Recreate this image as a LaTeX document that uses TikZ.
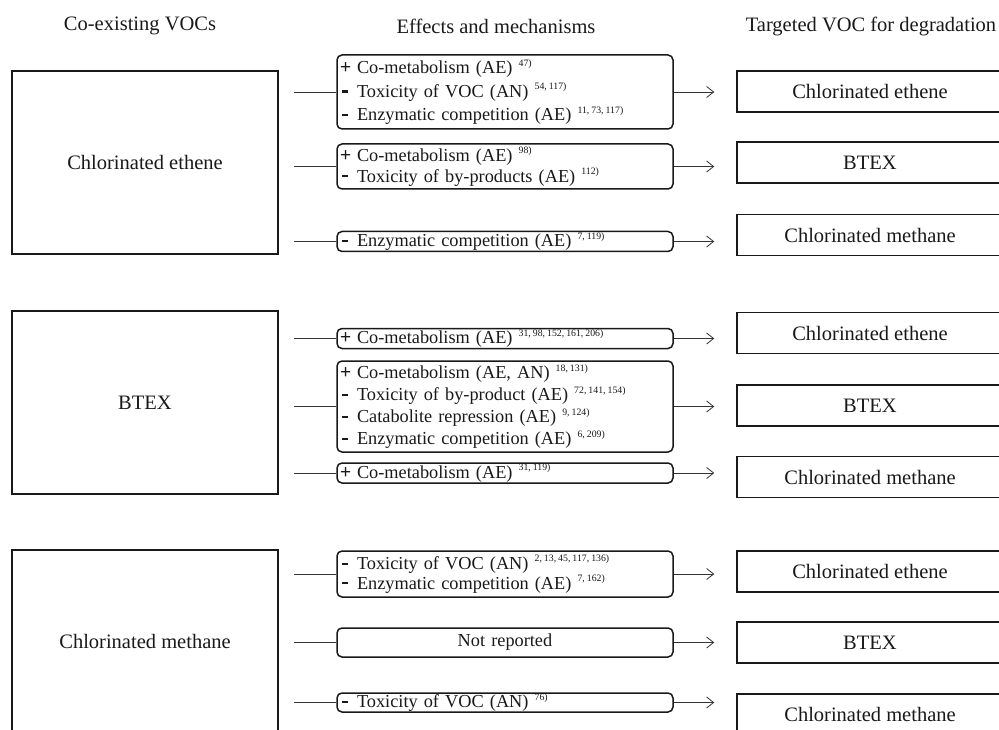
\documentclass[tikz,border=0pt]{standalone}
\usepackage{fontspec}
\setmainfont{Liberation Serif}
\setsansfont{Liberation Sans}
\usetikzlibrary{arrows.meta}
\newcommand\plusmark{\makebox[16pt][l]{\fontsize{19}{19}\sffamily\kern-1pt+}}
\newcommand\minusmark{\makebox[16pt][l]{\kern1pt\rule[4.6pt]{6pt}{2.4pt}}}
\newcommand\rfs[1]{\raisebox{0.42em}{\fontsize{9.8}{10}\selectfont\spaceskip=2pt\xspaceskip=2pt #1}}
\begin{document}
\begin{tikzpicture}[x=1pt,y=-1pt,
  bigtext/.style={font=\fontsize{20.5}{24}\selectfont, text=black!90},
  leftbox/.style={draw=black!90, line width=1.5pt, minimum width=266pt, minimum height=183pt, inner sep=0pt, bigtext},
  rightbox/.style={draw=black!90, line width=1.5pt, minimum width=266pt, minimum height=41pt, inner sep=0pt, bigtext},
  midbox/.style={draw=black!90, line width=1.5pt, rounded corners=5pt, text width=328pt, inner xsep=4pt, inner ysep=0pt, align=left, text=black!90, font=\fontsize{18.3}{22}\selectfont},
  conn/.style={line width=0.8pt, draw=black!80},
  arr/.style={conn, -{Straight Barb[length=7pt,width=11pt]}, shorten >=22pt},
  lin/.style={conn, shorten <=15pt}
]
\useasboundingbox (0,0) rectangle (999,730);
\clip (0,0) rectangle (999,730);

% headers
\node[bigtext] (h1) at (140,26) {Co-existing VOCs};
\node[bigtext] (h2) at (496,26) {Effects and mechanisms};
\node[bigtext] (h3) at (871,26) {Targeted VOC for degradation};

% left boxes
\node[leftbox] (L1) at (145,162.5) {Chlorinated ethene};
\node[leftbox] (L2) at (145,402.5) {BTEX};
\node[leftbox] (L3) at (145,641.5) {Chlorinated methane};

% right boxes
\node[rightbox] (R1) at (870,91.5) {Chlorinated ethene};
\node[rightbox] (R2) at (870,162.5) {BTEX};
\node[rightbox] (R3) at (870,235) {Chlorinated methane};
\node[rightbox] (R4) at (870,333) {Chlorinated ethene};
\node[rightbox] (R5) at (870,405.5) {BTEX};
\node[rightbox] (R6) at (870,477) {Chlorinated methane};
\node[rightbox] (R7) at (870,571.5) {Chlorinated ethene};
\node[rightbox] (R8) at (870,642.5) {BTEX};
\node[rightbox] (R9) at (870,714.5) {Chlorinated methane};

% middle boxes
\node[midbox, minimum height=74pt, font=\fontsize{18.3}{23.5}\selectfont] (M1) at (505,92) {\plusmark Co-metabolism (AE)~\rfs{47)}\\\minusmark Toxicity of VOC (AN)~\rfs{54, 117)}\\\minusmark Enzymatic competition (AE)~\rfs{11, 73, 117)}};
\node[midbox, minimum height=45pt, font=\fontsize{18.3}{20.5}\selectfont] (M2) at (505,166.5) {\plusmark Co-metabolism (AE)~\rfs{98)}\\\minusmark Toxicity of by-products (AE)~\rfs{112)}};
\node[midbox, minimum height=20pt] (M3) at (505,241.5) {\minusmark Enzymatic competition (AE)~\rfs{7, 119)}};
\node[midbox, minimum height=20pt] (M4) at (505,338.5) {\plusmark Co-metabolism (AE)~\rfs{31, 98, 152, 161, 206)}};
\node[midbox, minimum height=91pt, font=\fontsize{18.3}{22}\selectfont] (M5) at (505,406.5) {\plusmark Co-metabolism (AE, AN)~\rfs{18, 131)}\\\minusmark Toxicity of by-product (AE)~\rfs{72, 141, 154)}\\\minusmark Catabolite repression (AE)~\rfs{9, 124)}\\\minusmark Enzymatic competition (AE)~\rfs{6, 209)}};
\node[midbox, minimum height=20pt] (M6) at (505,473) {\plusmark Co-metabolism (AE)~\rfs{31, 119)}};
\node[midbox, minimum height=46pt, font=\fontsize{18.3}{19.5}\selectfont] (M7) at (505,574) {\minusmark Toxicity of VOC (AN)~\rfs{2, 13, 45, 117, 136)}\\\minusmark Enzymatic competition (AE)~\rfs{7, 162)}};
\node[midbox, minimum height=29pt, align=center] (M8) at (505,642.5) {Not reported};
\node[midbox, minimum height=19pt] (M9) at (505,702.5) {\minusmark Toxicity of VOC (AN)~\rfs{76)}};

% connectors from co-existing VOCs
\foreach \l/\m in {L1/M1,L1/M2,L1/M3,L2/M4,L2/M5,L2/M6,L3/M7,L3/M8,L3/M9}
  \draw[lin] (\l.east |- \m.west) -- (\m.west);
% arrows to targeted VOCs
\foreach \m/\r in {M1/R1,M2/R2,M3/R3,M4/R4,M5/R5,M6/R6,M7/R7,M8/R8,M9/R9}
  \draw[arr] (\m.east) -- (\m.east -| \r.west);
\end{tikzpicture}
\end{document}
